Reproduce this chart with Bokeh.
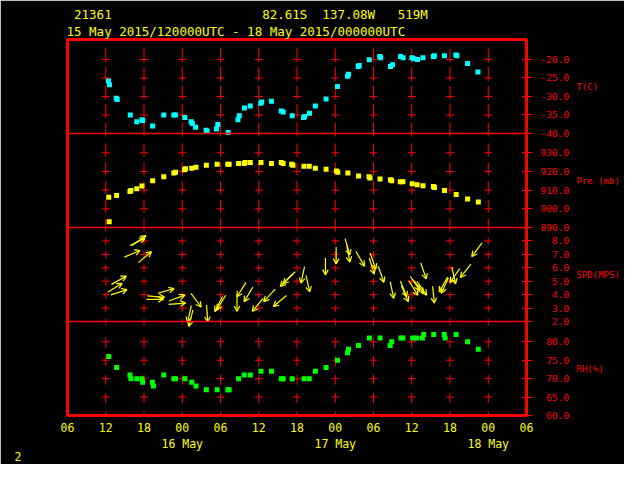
import numpy as np
from bokeh.plotting import figure
from bokeh.models import (Range1d, FixedTicker, CustomJSTickFormatter, Span, LinearAxis, Title)
from bokeh.embed import file_html
from bokeh.resources import INLINE

# ---------------- data (hours since 15 May 2015 00 UTC) ----------------
t_hr = [12.43, 12.58, 13.65, 13.8, 15.84, 16.87, 17.68, 17.79, 19.36, 21.1, 22.68, 22.94,
        24.41, 25.39, 25.59, 26.1, 27.74, 27.89, 29.37, 29.57, 31.21, 32.74, 32.94, 33.75,
        34.67, 36.31, 36.46, 37.99, 39.52, 39.83, 41.25, 43.04, 43.2, 43.96, 44.88, 46.56,
        48.35, 49.93, 50.08, 51.61, 51.77, 53.34, 54.98, 55.13, 56.66, 56.97, 58.24, 58.65,
        60.03, 60.34, 60.9, 61.76, 63.4, 63.55, 65.13, 66.92, 67.07, 68.76, 70.39]
t_val = [-25.8, -26.8, -30.5, -30.8, -35.0, -36.8, -36.3, -36.5, -38.0, -35.0, -35.0, -35.0,
         -35.7, -36.8, -37.3, -38.3, -39.1, -39.4, -38.8, -37.6, -39.7, -36.3, -35.2, -33.1,
         -32.6, -31.8, -31.5, -31.3, -33.9, -34.2, -35.2, -35.7, -35.4, -34.5, -32.6, -30.7,
         -27.3, -24.5, -24.0, -21.9, -21.6, -20.05, -19.2, -19.5, -21.9, -21.4, -19.2, -19.5,
         -19.5, -19.8, -20.0, -19.5, -19.2, -19.0, -19.0, -18.8, -19.0, -21.1, -23.4]

pre_hr = [12.47, 12.54, 13.7, 15.8, 15.95, 16.87, 17.68, 19.36, 21.1, 22.68, 22.94, 24.37,
          24.52, 25.49, 26.16, 27.78, 29.47, 31.15, 31.36, 32.83, 33.71, 33.86, 34.67, 36.35,
          37.99, 39.52, 39.83, 41.16, 41.36, 43.09, 43.92, 44.88, 46.56, 48.2, 48.4, 49.98,
          51.66, 53.3, 53.45, 55.03, 56.66, 56.86, 58.2, 58.61, 60.08, 60.84, 61.76, 63.4,
          63.55, 65.13, 66.97, 68.76, 70.44]
pre_val = [906.2, 893.1, 907.1, 909.3, 909.8, 910.8, 912.2, 915.0, 917.1, 919.1, 919.6, 920.9,
           921.4, 921.7, 922.2, 923.3, 923.8, 923.8, 923.8, 924.3, 924.3, 924.8, 924.8, 924.8,
           924.3, 924.8, 924.3, 923.8, 923.3, 922.8, 922.8, 921.7, 921.2, 920.2, 919.6, 919.1,
           917.6, 917.1, 916.5, 916.0, 915.5, 915.0, 914.5, 914.5, 913.4, 912.9, 912.4, 911.9,
           911.4, 909.8, 907.7, 905.2, 903.6]

rh_hr = [12.47, 13.7, 15.8, 15.95, 16.87, 17.68, 17.79, 19.32, 19.47, 21.1, 22.68, 22.94,
         24.41, 25.49, 26.16, 27.78, 29.47, 31.15, 31.36, 32.83, 33.71, 34.67, 36.35, 37.99,
         39.52, 39.83, 41.25, 43.09, 43.92, 44.88, 46.56, 48.35, 49.93, 50.08, 51.66, 53.35,
         55.03, 56.62, 56.86, 58.3, 58.61, 60.14, 60.8, 61.67, 61.87, 63.45, 65.08, 65.24,
         66.97, 68.76, 70.44]
rh_val = [76, 73, 71, 70, 70, 70, 69, 69, 68, 71, 70, 70,
          70, 69, 68, 67, 67, 67, 67, 70, 71, 71, 72, 72,
          70, 70, 70, 70, 70, 72, 73, 75, 77, 78, 79, 81,
          81, 79, 80, 81, 81, 81, 81, 81, 82, 82, 82, 81,
          82, 80, 78]

wind_hr = [14.57, 15.23, 15.34, 18.29, 18.14, 17.37, 19.16, 21.2, 21.05, 22.73,
           24.41, 24.52, 25.03, 26.97, 24.83, 28.0, 29.42, 29.11, 32.59, 33.71,
           32.59, 34.98, 36.77, 38.3, 39.83, 39.37, 42.63, 44.0, 46.46, 48.14,
           50.28, 50.28, 52.58, 54.11, 54.37, 55.64, 57.17, 59.22, 59.47, 61.26,
           61.87, 62.33, 60.95, 62.28, 63.55, 64.32, 64.63, 66.88, 66.0, 67.64, 69.42]
wind_spd = [4.85, 5.38, 4.37, 8.4, 8.21, 7.29, 7.2, 3.8, 3.65, 4.45,
            3.96, 3.37, 1.64, 3.08, 1.95, 1.97, 2.88, 2.74, 3.84, 3.48,
            2.76, 2.76, 3.48, 3.12, 4.81, 4.61, 4.85, 4.2, 5.47, 6.29,
            6.96, 6.43, 6.12, 5.53, 5.91, 4.92, 3.73, 3.84, 3.48, 4.32,
            4.11, 3.96, 3.96, 5.17, 3.37, 4.2, 4.11, 4.81, 4.9, 5.28, 6.84]
wind_dir = [238, 241, 252, 234, 243, 247, 230, 275, 270, 254,
            250, 266, 14, 323, 13, 356, 32, 27, 32, 31,
            0, 40, 43, 50, 45, 45, 12, 347, 0, 0,
            344, 350, 330, 343, 340, 340, 348, 338, 336, 326,
            322, 325, 328, 341, 354, 29, 25, 347, 35, 38, 37]

x_ticks = [6, 12, 18, 24, 30, 36, 42, 48, 54, 60, 66, 72, 78]
grid_hours = [12, 18, 24, 30, 36, 42, 48, 54, 60, 66, 72]
day_labels = ["16 May", "17 May", "18 May"]
day_hours = [24, 48, 72]

T_ticks = [-20, -25, -30, -35, -40]
P_ticks = [930, 920, 910, 900, 890]
S_ticks = [8, 7, 6, 5, 4, 3, 2]
R_ticks = [80, 75, 70, 65, 60]

station = "21361"
lat_txt, lon_txt, elev_txt = "82.61S", "137.08W", "519M"
period_txt = "15 May 2015/120000UTC - 18 May 2015/000000UTC"
page_no = "2"

RED = "#ff0000"
YEL = "#ffff00"
CYAN = "#00ffff"
GREEN = "#00ff00"
MONO = "DejaVu Sans Mono"
NB = "\u00a0"

# panel: name -> (index from bottom, lo, hi, ticks, title, seg up px, seg down px)
panels = {
    "T":   (3, -40.0, -14.6, T_ticks, "T(C)", 11, 3),
    "PRE": (2, 890.0, 940.3, P_ticks, "Pre (mb)", 9, 4),
    "SPD": (1, 2.0, 9.0, S_ticks, "SPD(MPS)", 3, 4),
    "RH":  (0, 60.0, 85.5, R_ticks, "RH(%)", 4, 6),
}

p = figure(width=624, height=464, x_range=Range1d(6, 78), y_range=Range1d(0, 4),
           y_axis_location="right", output_backend="svg", toolbar_location=None,
           min_border_left=67, min_border_right=98, min_border_top=39, min_border_bottom=49,
           background_fill_color="black", border_fill_color="black")
p.outline_line_color = RED
p.outline_line_width = 3
p.xgrid.visible = False
p.ygrid.visible = False

for name, (idx, lo, hi, ticks, title, up, dn) in panels.items():
    span = hi - lo
    p.extra_y_ranges[name] = Range1d(lo - idx * span, hi + (3 - idx) * span)

# ---- right axis (values) on panel coordinates ----
pos, labs = [], []
tpos, tlabs = [], []
for name, (idx, lo, hi, ticks, title, up, dn) in panels.items():
    for v in ticks:
        pos.append(idx + (v - lo) / (hi - lo))
        s = "%.1f" % v
        labs.append(NB * (5 - len(s)) + s)
    tpos.append(idx + 0.5)
    tlabs.append(title)

lookup = """
const i = pos.findIndex((q) => Math.abs(q - tick) < 1e-6);
return i >= 0 ? labs[i] : "";
"""
ya = p.yaxis[0]
ya.ticker = FixedTicker(ticks=pos)
ya.formatter = CustomJSTickFormatter(args=dict(pos=pos, labs=labs), code=lookup)
ya.axis_line_color = None
ya.major_tick_line_color = RED
ya.major_tick_in = 5
ya.major_tick_out = 6
ya.minor_tick_line_color = None
ya.major_label_text_color = RED
ya.major_label_text_font = MONO
ya.major_label_text_font_size = "9.5px"
ya.major_label_standoff = 8

# ---- right axis (panel titles) ----
ya2 = LinearAxis(ticker=FixedTicker(ticks=tpos),
                 formatter=CustomJSTickFormatter(args=dict(pos=tpos, labs=tlabs), code=lookup))
ya2.axis_line_color = None
ya2.major_tick_line_color = None
ya2.minor_tick_line_color = None
ya2.major_tick_out = 0
ya2.major_tick_in = 0
ya2.major_label_text_color = RED
ya2.major_label_text_font = MONO
ya2.major_label_text_font_size = "9px"
ya2.major_label_standoff = 4
p.add_layout(ya2, "right")

# ---- bottom axes (hours, then dates) ----
xa = p.xaxis[0]
xa.ticker = FixedTicker(ticks=x_ticks)
xa.formatter = CustomJSTickFormatter(code="""
const h = ((Math.round(tick) % 24) + 24) % 24;
return (h < 10 ? "0" : "") + h;
""")
xa.axis_line_color = None
xa.major_tick_line_color = None
xa.minor_tick_line_color = None
xa.major_tick_out = 0
xa.major_tick_in = 0
xa.major_label_text_color = YEL
xa.major_label_text_font = MONO
xa.major_label_text_font_size = "11.5px"
xa.major_label_standoff = 7

xa2 = LinearAxis(ticker=FixedTicker(ticks=day_hours),
                 formatter=CustomJSTickFormatter(args=dict(pos=day_hours, labs=day_labels),
                                                 code=lookup))
xa2.axis_line_color = None
xa2.major_tick_line_color = None
xa2.minor_tick_line_color = None
xa2.major_tick_out = 0
xa2.major_tick_in = 0
xa2.major_label_text_color = YEL
xa2.major_label_text_font = MONO
xa2.major_label_text_font_size = "11.5px"
xa2.major_label_standoff = 2
p.add_layout(xa2, "below")

p.add_layout(Title(text=page_no, align="left", offset=-53, standoff=-7,
                   text_color=YEL, text_font=MONO, text_font_size="11.5px",
                   text_font_style="normal"), "below")

# ---- header lines (closest to frame first) ----
p.add_layout(Title(text=period_txt, align="left", offset=-1, standoff=2,
                   text_color=YEL, text_font=MONO, text_font_size="12.5px",
                   text_font_style="normal"), "above")
line1 = NB + station + NB * 20 + lat_txt + NB * 2 + lon_txt + NB * 3 + elev_txt
p.add_layout(Title(text=line1, align="left", offset=-1, standoff=-3,
                   text_color=YEL, text_font=MONO, text_font_size="12.5px",
                   text_font_style="normal"), "above")

# panel separators
for loc in [1, 2, 3]:
    p.add_layout(Span(location=loc, dimension="width", line_color=RED, line_width=1.5))

# grid crosses
for name, (idx, lo, hi, ticks, title, up, dn) in panels.items():
    sx, sy, cx, cy = [], [], [], []
    for h in grid_hours:
        for v in ticks:
            sx.append(h); sy.append(v)
            if v != lo:
                cx.append(h); cy.append(v)
    p.ray(x=sx, y=sy, length=up, length_units="screen", angle=np.pi / 2,
          y_range_name=name, line_color=RED, line_width=1)
    p.ray(x=sx, y=sy, length=dn, length_units="screen", angle=-np.pi / 2,
          y_range_name=name, line_color=RED, line_width=1)
    p.scatter(x=cx, y=cy, marker="dash", size=8, line_color=RED, line_width=1,
              y_range_name=name)

# data series
p.scatter(x=t_hr, y=t_val, marker="square", size=5, fill_color=CYAN, line_color=None,
          y_range_name="T")
p.scatter(x=pre_hr, y=pre_val, marker="square", size=5, fill_color=YEL, line_color=None,
          y_range_name="PRE")
p.scatter(x=rh_hr, y=rh_val, marker="square", size=5, fill_color=GREEN, line_color=None,
          y_range_name="RH")

# wind arrows (tip at point, shaft back toward where the wind comes from)
wd = np.array(wind_dir, dtype=float)
back = np.deg2rad(90.0 - wd)
p.ray(x=wind_hr, y=wind_spd, length=17, length_units="screen", angle=back,
      y_range_name="SPD", line_color=YEL, line_width=1.2)
p.ray(x=wind_hr, y=wind_spd, length=6, length_units="screen", angle=back + np.deg2rad(28),
      y_range_name="SPD", line_color=YEL, line_width=1.2)
p.ray(x=wind_hr, y=wind_spd, length=6, length_units="screen", angle=back - np.deg2rad(28),
      y_range_name="SPD", line_color=YEL, line_width=1.2)

open("out.html", "w").write(file_html(p, INLINE))
